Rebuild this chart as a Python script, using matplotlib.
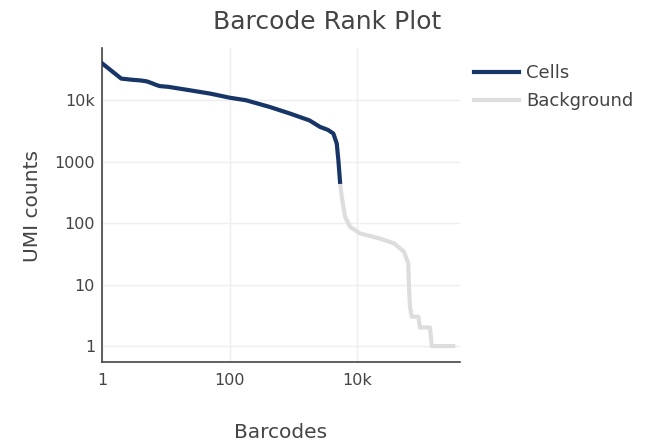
import matplotlib
matplotlib.use("Agg")
import matplotlib.pyplot as plt
from matplotlib.ticker import FixedLocator, FixedFormatter, NullLocator

plt.rcParams['font.family'] = ['DejaVu Sans']

title = "Barcode Rank Plot"
x_label = "Barcodes"
y_label = "UMI counts"

cells_rank = [1, 2, 3, 4, 5, 6, 7, 8, 11, 24, 50, 100, 180, 420, 870, 1780,
              2610, 3450, 4220, 4770, 5060, 5370]
cells_umi = [40000, 22500, 21500, 21000, 20300, 19000, 17800, 17000, 16500,
             14500, 12800, 11000, 10000, 7800, 6100, 4700, 3680, 3300, 2875,
             1977, 1057, 470]

bg_rank = [5370, 5710, 6440, 7710, 11070, 22750, 37900, 54200, 63000, 64600,
           67000, 71300, 90700, 96000, 138000, 147000, 320000]
bg_umi = [470, 268, 127, 87, 68, 56, 46.8, 34, 22, 9.2, 4.4, 3, 3, 2, 2, 1, 1]

x_ticks = [1, 100, 10000]
x_tick_labels = ["1", "100", "10k"]
y_ticks = [1, 10, 100, 1000, 10000]
y_tick_labels = ["1", "10", "100", "1000", "10k"]

cells_color = "#173566"
bg_color = "#dddddd"
text_color = "#444444"

W, H = 662, 441
fig = plt.figure(figsize=(W / 100, H / 100), dpi=100)
L, R, T, B = 102, 460, 48, 362
ax = fig.add_axes([L / W, 1 - B / H, (R - L) / W, (B - T) / H])

ax.plot(cells_rank, cells_umi, color=cells_color, lw=3, label="Cells",
        solid_joinstyle='round', zorder=3)
ax.plot(bg_rank, bg_umi, color=bg_color, lw=3, label="Background",
        solid_joinstyle='round', zorder=2)

ax.set_xscale('log')
ax.set_yscale('log')
ax.set_xlim(1, 10 ** 5.61)
ax.set_ylim(10 ** -0.26, 10 ** 4.85)

ax.xaxis.set_major_locator(FixedLocator(x_ticks))
ax.xaxis.set_major_formatter(FixedFormatter(x_tick_labels))
ax.xaxis.set_minor_locator(NullLocator())
ax.yaxis.set_major_locator(FixedLocator(y_ticks))
ax.yaxis.set_major_formatter(FixedFormatter(y_tick_labels))
ax.yaxis.set_minor_locator(NullLocator())

ax.grid(True, color="#eeeeee", lw=1)
ax.set_axisbelow(True)
for s in ['top', 'right']:
    ax.spines[s].set_visible(False)
for s in ['left', 'bottom']:
    ax.spines[s].set_color(text_color)
    ax.spines[s].set_linewidth(1.2)
ax.tick_params(length=0, colors=text_color, labelsize=11.5, pad=5)
ax.tick_params(axis='x', pad=8)

fig.text(327 / W, 1 - 22 / H, title, ha='center', va='center',
         fontsize=18, color=text_color)
fig.text(281 / W, 1 - 432 / H, x_label, ha='center', va='center',
         fontsize=14.5, color=text_color)
fig.text(33 / W, 1 - 206 / H, y_label, ha='center', va='center',
         fontsize=14.5, color=text_color, rotation=90)

leg = ax.legend(loc='upper left', bbox_to_anchor=(474 / W, 1 - 64 / H),
                bbox_transform=fig.transFigure, frameon=False, fontsize=13,
                handlelength=2.5, handletextpad=0.4, labelspacing=0.55,
                borderpad=0, borderaxespad=0)
for t in leg.get_texts():
    t.set_color(text_color)

fig.savefig("out.png", dpi=100)
